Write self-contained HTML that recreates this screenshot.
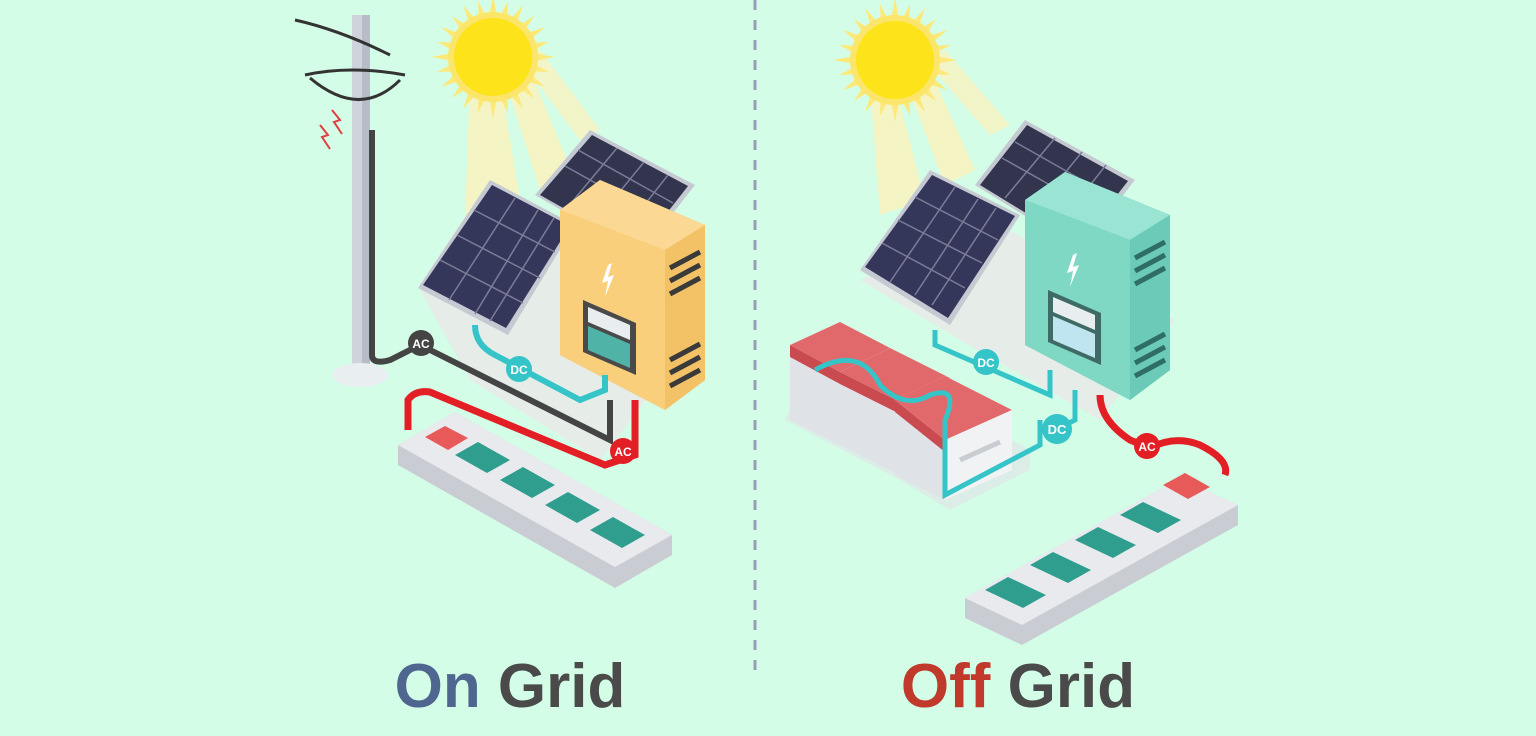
<!DOCTYPE html>
<html><head><style>
html,body{margin:0;padding:0;background:#d4fde7;}
svg{display:block}
</style></head><body>
<svg width="1536" height="736" viewBox="0 0 1536 736" xmlns="http://www.w3.org/2000/svg" font-family="Liberation Sans, sans-serif">
<defs>
<g id="sun">
<g fill="#fde97a">
<polygon points="0,-62 4,-40 -4,-40"/><polygon points="0,62 4,40 -4,40"/><polygon points="-62,0 -40,4 -40,-4"/><polygon points="62,0 40,4 40,-4"/>
<g transform="rotate(15)"><polygon points="0,-58 4,-40 -4,-40"/><polygon points="0,58 4,40 -4,40"/><polygon points="-58,0 -40,4 -40,-4"/><polygon points="58,0 40,4 40,-4"/></g>
<g transform="rotate(30)"><polygon points="0,-60 4,-40 -4,-40"/><polygon points="0,60 4,40 -4,40"/><polygon points="-60,0 -40,4 -40,-4"/><polygon points="60,0 40,4 40,-4"/></g>
<g transform="rotate(45)"><polygon points="0,-58 4,-40 -4,-40"/><polygon points="0,58 4,40 -4,40"/><polygon points="-58,0 -40,4 -40,-4"/><polygon points="58,0 40,4 40,-4"/></g>
<g transform="rotate(60)"><polygon points="0,-60 4,-40 -4,-40"/><polygon points="0,60 4,40 -4,40"/><polygon points="-60,0 -40,4 -40,-4"/><polygon points="60,0 40,4 40,-4"/></g>
<g transform="rotate(75)"><polygon points="0,-58 4,-40 -4,-40"/><polygon points="0,58 4,40 -4,40"/><polygon points="-58,0 -40,4 -40,-4"/><polygon points="58,0 40,4 40,-4"/></g>
</g>
<circle r="45" fill="#fbe56a"/>
<circle r="39" fill="#fde31a"/>
</g>
</defs>
<rect width="1536" height="736" fill="#d4fde7"/>
<line x1="755" y1="0" x2="755" y2="680" stroke="#9a9cba" stroke-width="3" stroke-dasharray="10 10"/>

<!-- LEFT: beams -->
<polygon points="470,80 500,80 520,200 465,220" fill="#f7f3c0" opacity="0.9"/>
<polygon points="505,80 530,70 575,180 540,190" fill="#f7f3c0" opacity="0.9"/>
<polygon points="520,60 540,50 600,130 580,140" fill="#f7f3c0" opacity="0.8"/>
<use href="#sun" x="493" y="57"/>
<!-- pole -->
<rect x="352" y="15" width="18" height="360" fill="#cfd3db"/>
<rect x="362" y="15" width="8" height="360" fill="#b8bcc8"/>
<ellipse cx="360" cy="375" rx="28" ry="12" fill="#e9eef0"/>
<path d="M295,20 Q340,30 390,55 M305,75 Q350,65 405,75 M310,78 Q360,120 400,80" stroke="#333" stroke-width="3" fill="none"/>
<path d="M320,125 l8,10 -6,2 8,12" stroke="#e04040" stroke-width="2" fill="none"/>
<path d="M332,110 l8,10 -6,2 8,12" stroke="#e04040" stroke-width="2" fill="none"/>
<polygon points="420,290 560,230 700,330 600,460 470,380" fill="#e6ece8"/>
<polygon points="535,195 590,130 695,185 640,255" fill="#c5c9d2"/>
<polygon points="540,195 592,135 688,186 638,250" fill="#33354f"/>
<polygon points="418,288 490,180 575,225 508,335" fill="#c5c9d2"/>
<polygon points="423,285 492,185 570,226 506,328" fill="#35375a"/>
<g stroke="#7a7c98" stroke-width="1.5">
<line x1="440" y1="260" x2="523" y2="303"/><line x1="457" y1="235" x2="540" y2="278"/><line x1="474" y1="210" x2="555" y2="252"/>
<line x1="449" y1="300" x2="515" y2="198"/><line x1="475" y1="314" x2="538" y2="210"/><line x1="490" y1="321" x2="554" y2="218"/>
<line x1="565" y1="166" x2="660" y2="219"/><line x1="578" y1="150" x2="673" y2="203"/>
<line x1="567" y1="208" x2="617" y2="148"/><line x1="595" y1="222" x2="644" y2="162"/><line x1="620" y1="236" x2="668" y2="175"/>
</g>
<polygon points="560,210 600,180 705,225 705,380 665,410 560,355" fill="#f2b95a"/>
<polygon points="560,210 600,180 705,225 665,250" fill="#fbd995"/>
<polygon points="560,210 665,250 665,410 560,355" fill="#f9cf7c"/>
<polygon points="665,250 705,225 705,380 665,410" fill="#f4c266"/>
<g stroke="#3a3a3a" stroke-width="5"><line x1="670" y1="268" x2="700" y2="252"/><line x1="670" y1="281" x2="700" y2="265"/><line x1="670" y1="294" x2="700" y2="278"/><line x1="670" y1="360" x2="700" y2="344"/><line x1="670" y1="373" x2="700" y2="357"/><line x1="670" y1="386" x2="700" y2="370"/></g>
<polygon points="583,300 636,323 636,375 583,352" fill="#4a4a4a"/>
<polygon points="588,307 630,325 630,340 588,322" fill="#e8eef0"/>
<polygon points="588,326 630,344 630,368 588,350" fill="#4fb3a8"/>
<path d="M608,265 l-6,18 6,-2 -3,16 9,-22 -6,2 4,-14z" fill="#fff"/>
<path d="M372,130 L372,355 Q372,365 390,360 L420,345 L610,440 L610,400" stroke="#444" stroke-width="6" fill="none"/>
<path d="M475,325 Q475,345 495,355 L580,400 L605,390 L605,375" stroke="#35c4c8" stroke-width="6" fill="none"/>
<path d="M408,430 L408,400 Q415,390 430,392 L605,465 L635,455 L635,400" stroke="#e31e24" stroke-width="7" fill="none"/>
<circle cx="421" cy="343" r="13" fill="#444"/><text x="421" y="348" font-size="12" font-weight="bold" fill="#fff" text-anchor="middle">AC</text>
<circle cx="519" cy="369" r="13" fill="#35c4c8"/><text x="519" y="374" font-size="12" font-weight="bold" fill="#fff" text-anchor="middle">DC</text>
<circle cx="623" cy="451" r="13" fill="#e31e24"/><text x="623" y="456" font-size="12" font-weight="bold" fill="#fff" text-anchor="middle">AC</text>
<polygon points="398,445 455,412 672,535 672,555 615,588 398,465" fill="#c9cdd3"/>
<polygon points="398,445 455,412 672,535 615,567" fill="#e9eaee"/>
<polygon points="425,437 445,426 468,438 448,450" fill="#e85a5a"/>
<g fill="#2f9e8e"><polygon points="455,455 478,442 510,460 487,473"/><polygon points="500,480 523,467 555,485 532,498"/><polygon points="545,505 568,492 600,510 577,523"/><polygon points="590,530 613,517 645,535 622,548"/></g>

<!-- RIGHT -->
<polygon points="870,85 895,85 925,200 880,215" fill="#f7f3c0" opacity="0.9"/>
<polygon points="905,80 930,70 975,170 945,185" fill="#f7f3c0" opacity="0.9"/>
<polygon points="925,60 945,50 1010,125 990,135" fill="#f7f3c0" opacity="0.8"/>
<use href="#sun" x="895" y="60"/>
<polygon points="860,280 990,220 1175,320 1100,420 960,340" fill="#e6ece8"/>
<polygon points="975,185 1025,120 1135,180 1080,250" fill="#c5c9d2"/>
<polygon points="980,185 1027,125 1128,181 1078,245" fill="#33354f"/>
<polygon points="860,270 930,170 1020,215 950,325" fill="#c5c9d2"/>
<polygon points="865,267 932,175 1015,216 948,318" fill="#35375a"/>
<g stroke="#7a7c98" stroke-width="1.5">
<line x1="882" y1="243" x2="965" y2="288"/><line x1="898" y1="220" x2="982" y2="263"/><line x1="915" y1="197" x2="998" y2="240"/>
<line x1="890" y1="282" x2="955" y2="187"/><line x1="915" y1="295" x2="978" y2="199"/><line x1="932" y1="305" x2="996" y2="208"/>
<line x1="1002" y1="158" x2="1100" y2="213"/><line x1="1015" y1="142" x2="1112" y2="197"/>
<line x1="1005" y1="198" x2="1055" y2="138"/><line x1="1033" y1="212" x2="1082" y2="152"/><line x1="1058" y1="226" x2="1106" y2="165"/>
</g>
<polygon points="1025,200 1065,172 1170,215 1170,370 1130,400 1025,345" fill="#5cbfae"/>
<polygon points="1025,200 1065,172 1170,215 1130,240" fill="#9ae4d4"/>
<polygon points="1025,200 1130,240 1130,400 1025,345" fill="#7fd8c4"/>
<polygon points="1130,240 1170,215 1170,370 1130,400" fill="#6ccbb8"/>
<g stroke="#2f6e66" stroke-width="5"><line x1="1135" y1="258" x2="1165" y2="242"/><line x1="1135" y1="271" x2="1165" y2="255"/><line x1="1135" y1="284" x2="1165" y2="268"/><line x1="1135" y1="350" x2="1165" y2="334"/><line x1="1135" y1="363" x2="1165" y2="347"/><line x1="1135" y1="376" x2="1165" y2="360"/></g>
<polygon points="1048,290 1101,313 1101,365 1048,342" fill="#3f6b66"/>
<polygon points="1053,297 1095,315 1095,330 1053,312" fill="#e8eef0"/>
<polygon points="1053,316 1095,334 1095,358 1053,340" fill="#bfe6f0"/>
<path d="M1073,255 l-6,18 6,-2 -3,16 9,-22 -6,2 4,-14z" fill="#fff"/>
<!-- batteries: three boxes -->
<polygon points="785,420 900,480 950,510 1030,470 1030,450 820,340" fill="#dfe5e8" opacity="0.7"/>
<g>
<polygon points="790,345 840,322 890,348 890,420 840,445 790,420" fill="#e4e8ec"/>
<polygon points="790,345 840,322 890,348 840,372" fill="#e2696b"/>
<polygon points="790,345 840,372 840,445 790,420" fill="#dfe3e7"/>
<polygon points="790,345 840,372 840,384 790,357" fill="#c94b50"/>
</g>
<g>
<polygon points="840,372 890,348 950,378 950,450 900,475 840,445" fill="#e4e8ec"/>
<polygon points="840,372 890,348 950,378 900,402" fill="#e2696b"/>
<polygon points="840,372 900,402 900,475 840,445" fill="#dfe3e7"/>
<polygon points="840,372 900,402 900,414 840,384" fill="#c94b50"/>
</g>
<g>
<polygon points="895,400 945,376 1012,410 1012,470 945,500 895,475" fill="#e4e8ec"/>
<polygon points="895,400 945,376 1012,410 945,440" fill="#e2696b"/>
<polygon points="895,400 945,440 945,500 895,475" fill="#dfe3e7"/>
<polygon points="895,400 945,440 945,452 895,412" fill="#c94b50"/>
<polygon points="945,440 1012,410 1012,470 945,500" fill="#f0f2f4"/>
<line x1="960" y1="460" x2="1000" y2="442" stroke="#c8cdd2" stroke-width="5"/>
</g>
<path d="M815,370 Q860,345 880,385 Q905,410 930,395 Q960,385 945,420 L945,495 L1040,445 L1040,420" stroke="#35c4c8" stroke-width="5" fill="none"/>
<path d="M935,330 L935,345 L1050,395 L1050,370" stroke="#35c4c8" stroke-width="5" fill="none"/>
<path d="M1075,390 L1075,420 L1045,435" stroke="#35c4c8" stroke-width="5" fill="none"/>
<path d="M1100,395 Q1100,420 1130,440 L1150,448 Q1175,435 1200,445 Q1230,460 1225,475" stroke="#e31e24" stroke-width="7" fill="none"/>
<circle cx="986" cy="362" r="13" fill="#35c4c8"/><text x="986" y="367" font-size="12" font-weight="bold" fill="#fff" text-anchor="middle">DC</text>
<circle cx="1057" cy="429" r="15" fill="#35c4c8"/><text x="1057" y="434" font-size="13" font-weight="bold" fill="#fff" text-anchor="middle">DC</text>
<circle cx="1147" cy="446" r="13" fill="#e31e24"/><text x="1147" y="451" font-size="12" font-weight="bold" fill="#fff" text-anchor="middle">AC</text>
<polygon points="965,598 1180,478 1238,505 1238,525 1022,645 965,618" fill="#c9cdd3"/>
<polygon points="965,598 1180,478 1238,505 1022,625" fill="#e9eaee"/>
<polygon points="1163,485 1185,473 1210,487 1188,499" fill="#e85a5a"/>
<g fill="#2f9e8e"><polygon points="985,590 1008,577 1046,595 1023,608"/><polygon points="1030,565 1053,552 1091,570 1068,583"/><polygon points="1075,540 1098,527 1136,545 1113,558"/><polygon points="1120,515 1143,502 1181,520 1158,533"/></g>

<text x="510" y="707" font-size="62" font-weight="bold" text-anchor="middle"><tspan fill="#4f6690">On</tspan><tspan fill="#4a4a4a"> Grid</tspan></text>
<text x="1018" y="707" font-size="62" font-weight="bold" text-anchor="middle"><tspan fill="#c0392b">Off</tspan><tspan fill="#4a4a4a"> Grid</tspan></text>
</svg>
</body></html>
